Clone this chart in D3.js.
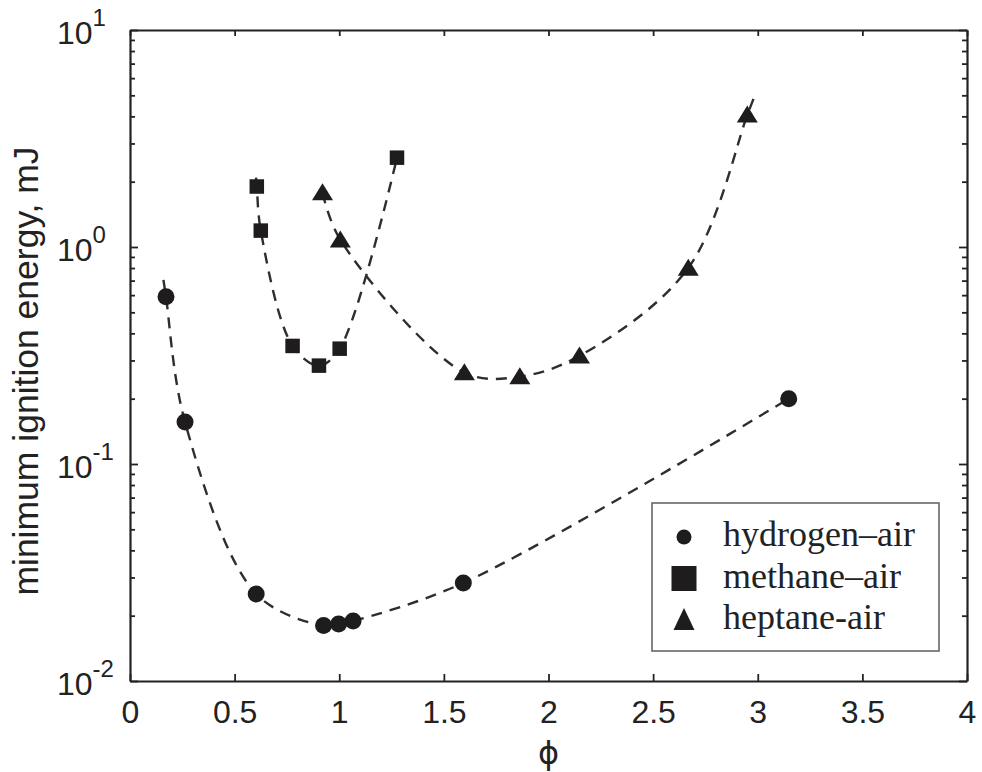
<!DOCTYPE html>
<html>
<head>
<meta charset="utf-8">
<script src="https://cdn.jsdelivr.net/npm/d3@7"></script>
<style>
  body { margin: 0; background: #fff; }
  svg { display: block; }
</style>
</head>
<body>
<svg id="chart"></svg>
<script>
// equivalence ratio (phi) and minimum ignition energy (mJ) for each mixture
const hydrogenPhi = [0.172, 0.263, 0.603, 0.925, 0.997, 1.066, 1.593, 3.148];
const hydrogenMIE = [0.59, 0.156, 0.0252, 0.0180, 0.0183, 0.0189, 0.0283, 0.20];

const methanePhi = [0.606, 0.625, 0.777, 0.903, 1.002, 1.276];
const methaneMIE = [1.90, 1.19, 0.35, 0.284, 0.34, 2.58];

const heptanePhi = [0.92, 1.005, 1.598, 1.863, 2.148, 2.668, 2.95];
const heptaneMIE = [1.78, 1.08, 0.264, 0.253, 0.315, 0.80, 4.06];

const legendLabels = ["hydrogen\u2013air", "methane\u2013air", "heptane-air"];
const xTicks = [0, 0.5, 1, 1.5, 2, 2.5, 3, 3.5, 4];
const xTickLabels = ["0", "0.5", "1", "1.5", "2", "2.5", "3", "3.5", "4"];
const yMajor = [0.01, 0.1, 1, 10];
const yExponents = ["-2", "-1", "0", "1"];

let width = 982, height = 772;
let margin = {top: 30, right: 15, bottom: 91, left: 130};
let ink = "#1e1c1c";

var svg = d3.select("#chart")
	.attr("width", width)
	.attr("height", height);

var x = d3.scaleLinear()
	.domain([0, 4])
	.range([margin.left, width - margin.right]);

var y = d3.scaleLog()
	.domain([0.01, 10])
	.range([height - margin.bottom, margin.top]);

let isMajor = v => yMajor.some(m => Math.abs(Math.log10(v) - Math.log10(m)) < 1e-6);

// dashed curves, drawn first so markers sit on top
let line = d3.line()
	.curve(d3.curveCatmullRom.alpha(0.5));

// the fitted curves run a little past some end points
let series = [
	{phi: hydrogenPhi, mie: hydrogenMIE, shape: "circle", extStart: 17, extEnd: 0},
	{phi: methanePhi, mie: methaneMIE, shape: "square", extStart: 9, extEnd: 0},
	{phi: heptanePhi, mie: heptaneMIE, shape: "triangle", extStart: 0, extEnd: 18}
];

function curvePoints(s) {
	let pts = d3.zip(s.phi, s.mie).map(d => [x(d[0]), y(d[1])]);
	function stretch(a, b, len) {
		let dx = a[0] - b[0], dy = a[1] - b[1];
		let n = Math.hypot(dx, dy);
		return [a[0] + dx / n * len, a[1] + dy / n * len];
	}
	if (s.extStart) pts.unshift(stretch(pts[0], pts[1], s.extStart));
	if (s.extEnd) pts.push(stretch(pts[pts.length - 1], pts[pts.length - 2], s.extEnd));
	return pts;
}

svg.append("g").selectAll("path")
	.data(series)
	.enter()
	.append("path")
	.attr("d", s => line(curvePoints(s)))
	.attr("fill", "none")
	.attr("stroke", "#2e2e2e")
	.attr("stroke-width", 2.4)
	.attr("stroke-dasharray", "11,8");

function marker(g, shape, big) {
	if (shape == "circle") {
		g.append("circle").attr("r", big ? 7.5 : 8.5).attr("fill", ink);
	} else if (shape == "square") {
		let s = big ? 25 : 14.5;
		g.append("rect").attr("x", -s / 2).attr("y", -s / 2)
			.attr("width", s).attr("height", s).attr("fill", ink);
	} else {
		let w = 21, h = big ? 22 : 17;
		g.append("path")
			.attr("d", "M0," + (-h * 0.55) + "L" + (w / 2) + "," + (h * 0.45) + "L" + (-w / 2) + "," + (h * 0.45) + "Z")
			.attr("fill", ink);
	}
}

series.forEach(s => {
	svg.append("g").selectAll("g")
		.data(d3.zip(s.phi, s.mie))
		.enter()
		.append("g")
		.attr("transform", d => "translate(" + x(d[0]) + "," + y(d[1]) + ")")
		.each(function() { marker(d3.select(this), s.shape, false); });
});

// axes: ticks point inwards on all four sides
let yTickVals = y.ticks();

let bottom = svg.append("g")
	.attr("transform", "translate(0," + y(0.01) + ")")
	.call(d3.axisBottom(x).tickValues(xTicks).tickSizeInner(-7).tickSizeOuter(0)
		.tickFormat((d, i) => xTickLabels[i]));
bottom.selectAll("text")
	.attr("dy", null)
	.attr("y", 42)
	.style("font-family", "'Liberation Sans', Arial, sans-serif")
	.style("font-size", "32px")
	.attr("fill", "#222");

svg.append("g")
	.attr("transform", "translate(0," + y(10) + ")")
	.call(d3.axisTop(x).tickValues(xTicks).tickSizeInner(-6).tickSizeOuter(0).tickFormat(""));

let left = svg.append("g")
	.attr("transform", "translate(" + x(0) + ",0)")
	.call(d3.axisLeft(y).tickValues(yTickVals).tickSizeInner(-5).tickSizeOuter(0).tickFormat(""));
left.selectAll(".tick line").attr("x2", d => isMajor(d) ? 8 : 5);

let right = svg.append("g")
	.attr("transform", "translate(" + x(4) + ",0)")
	.call(d3.axisRight(y).tickValues(yTickVals).tickSizeInner(-5).tickSizeOuter(0).tickFormat(""));
right.selectAll(".tick line").attr("x2", d => isMajor(d) ? -8 : -5);

svg.selectAll(".domain").attr("stroke", "#222").attr("stroke-width", 2.2);
svg.selectAll(".tick line").attr("stroke", "#222").attr("stroke-width", 1.8);

// y tick labels as 10 with a superscript exponent
let ylab = svg.append("g").selectAll("text")
	.data(yMajor)
	.enter()
	.append("text")
	.attr("x", 57)
	.attr("y", d => y(d) + 14)
	.style("font-family", "'Liberation Sans', Arial, sans-serif")
	.style("font-size", "32px")
	.attr("fill", "#222");
ylab.append("tspan").text("10");
ylab.append("tspan")
	.attr("dy", -18)
	.style("font-size", "24px")
	.text((d, i) => yExponents[i]);

// axis titles
svg.append("text")
	.attr("transform", "translate(38," + 371 + ") rotate(-90)")
	.attr("text-anchor", "middle")
	.style("font-family", "'Liberation Sans', Arial, sans-serif")
	.style("font-size", "35.5px")
	.attr("fill", "#222")
	.text("minimum ignition energy, mJ");

svg.append("text")
	.attr("x", x(2))
	.attr("y", 764)
	.attr("text-anchor", "middle")
	.style("font-family", "'DejaVu Sans', sans-serif")
	.style("font-size", "32px")
	.attr("fill", "#222")
	.text("\u03D5");

// legend
let legend = svg.append("g").attr("transform", "translate(652,503)");
legend.append("rect")
	.attr("width", 287)
	.attr("height", 148)
	.attr("fill", "#fff")
	.attr("stroke", "#666")
	.attr("stroke-width", 1.6);

let entries = legend.selectAll("g")
	.data(series)
	.enter()
	.append("g")
	.attr("transform", (d, i) => "translate(0," + (34 + i * 41.5) + ")");
entries.append("g")
	.attr("transform", "translate(32,0)")
	.each(function(d) { marker(d3.select(this), d.shape, true); });
entries.append("text")
	.attr("x", 71)
	.attr("y", 9)
	.style("font-family", "'Liberation Serif', 'Times New Roman', serif")
	.style("font-size", "36px")
	.attr("fill", "#222")
	.text((d, i) => legendLabels[i]);
</script>
</body>
</html>
